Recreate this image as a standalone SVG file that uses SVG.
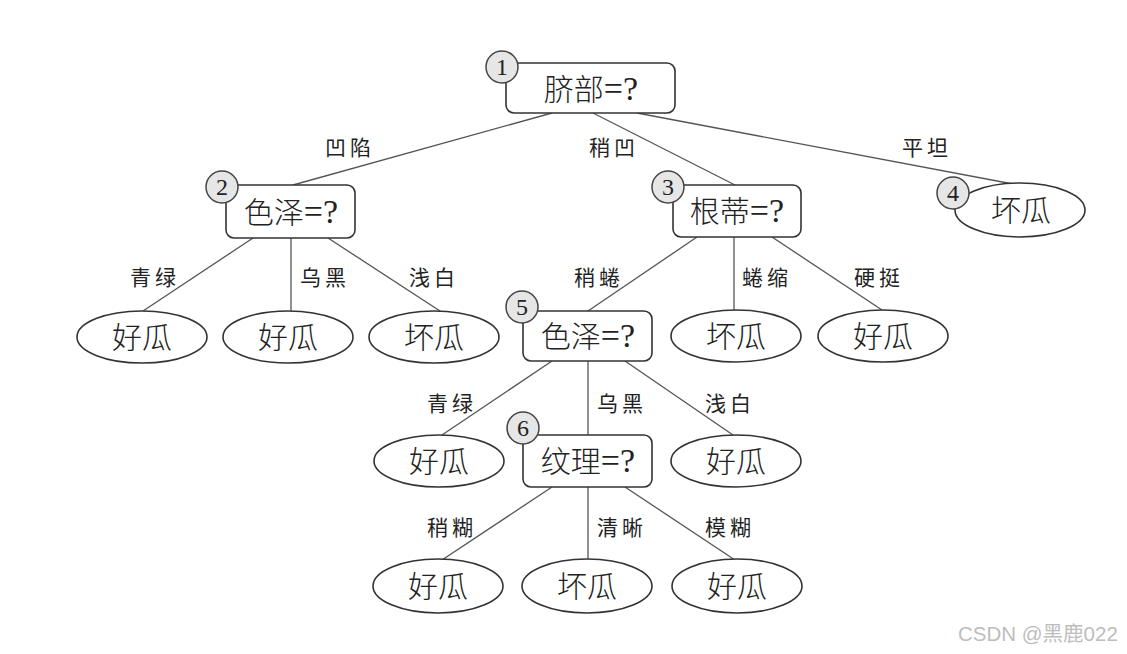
<svg xmlns="http://www.w3.org/2000/svg" width="1127" height="654" viewBox="0 0 1127 654">
<style>
.box{fill:#fff;stroke:#333;stroke-width:1.6}
.leaf{fill:#fff;stroke:#333;stroke-width:1.6}
.num{fill:#e6e6e6;stroke:#444;stroke-width:1.5}
.edge{stroke:#555;stroke-width:1.3;fill:none}
.nt{font-family:"Liberation Serif","Noto Sans CJK SC",serif;font-size:30px;fill:#222;text-anchor:middle;font-weight:300}
.lt{font-family:"Noto Sans CJK SC",sans-serif;font-size:30px;fill:#222;text-anchor:middle;font-weight:300}
.nn{font-family:"Liberation Serif",serif;font-size:24px;fill:#222;text-anchor:middle}
.el{font-family:"Noto Sans CJK SC",sans-serif;font-size:21px;fill:#222;text-anchor:middle;letter-spacing:4px}
.wm{font-family:"Liberation Sans","Noto Sans CJK SC",sans-serif;font-size:20.5px;fill:#bdbdbd}
</style>
<rect width="1127" height="654" fill="#fff"/>
<g id="connectors">
<line class="edge" x1="552" y1="113" x2="293" y2="185"/>
<line class="edge" x1="593" y1="113" x2="735" y2="185"/>
<line class="edge" x1="637" y1="113" x2="1013" y2="184"/>
<line class="edge" x1="253" y1="238" x2="143" y2="311"/>
<line class="edge" x1="291" y1="238" x2="291" y2="311"/>
<line class="edge" x1="328" y1="238" x2="440" y2="311"/>
<line class="edge" x1="697" y1="237" x2="588" y2="311"/>
<line class="edge" x1="734" y1="237" x2="734" y2="310"/>
<line class="edge" x1="772" y1="237" x2="882" y2="310"/>
<line class="edge" x1="552" y1="361" x2="442" y2="435"/>
<line class="edge" x1="588" y1="361" x2="588" y2="435"/>
<line class="edge" x1="625" y1="361" x2="733" y2="435"/>
<line class="edge" x1="552" y1="487" x2="442" y2="560"/>
<line class="edge" x1="588" y1="487" x2="588" y2="560"/>
<line class="edge" x1="625" y1="487" x2="735" y2="560"/>
<text class="el" x="350" y="155">凹陷</text>
<text class="el" x="614" y="155">稍凹</text>
<text class="el" x="927" y="155">平坦</text>
<text class="el" x="155" y="285">青绿</text>
<text class="el" x="325" y="285">乌黑</text>
<text class="el" x="434" y="285">浅白</text>
<text class="el" x="599" y="285">稍蜷</text>
<text class="el" x="767" y="285">蜷缩</text>
<text class="el" x="879" y="285">硬挺</text>
<text class="el" x="452" y="411">青绿</text>
<text class="el" x="622" y="411">乌黑</text>
<text class="el" x="730" y="411">浅白</text>
<text class="el" x="452" y="535">稍糊</text>
<text class="el" x="622" y="535">清晰</text>
<text class="el" x="730" y="535">模糊</text>
</g>
<g id="n1">
<rect class="box" x="506" y="63" width="169" height="50" rx="8"/>
<circle class="num" cx="502" cy="67" r="16"/>
<text class="nn" x="502" y="75">1</text>
<text class="nt" x="591" y="100">脐部<tspan font-size="34">=?</tspan></text>
</g>
<g id="n2">
<rect class="box" x="226" y="185" width="129" height="53" rx="8"/>
<circle class="num" cx="222" cy="187" r="16"/>
<text class="nn" x="222" y="195">2</text>
<text class="nt" x="291" y="223">色泽<tspan font-size="34">=?</tspan></text>
</g>
<g id="n3">
<rect class="box" x="673" y="185" width="128" height="52" rx="8"/>
<circle class="num" cx="668" cy="187" r="16"/>
<text class="nn" x="668" y="195">3</text>
<text class="nt" x="737" y="222">根蒂<tspan font-size="34">=?</tspan></text>
</g>
<g id="n4">
<ellipse class="leaf" cx="1020" cy="210" rx="65" ry="27"/>
<circle class="num" cx="953" cy="193" r="16"/>
<text class="nn" x="953" y="201">4</text>
<text class="lt" x="1021" y="221">坏瓜</text>
</g>
<g id="n5">
<rect class="box" x="523" y="311" width="129" height="50" rx="8"/>
<circle class="num" cx="522" cy="307" r="16"/>
<text class="nn" x="522" y="315">5</text>
<text class="nt" x="588" y="347">色泽<tspan font-size="34">=?</tspan></text>
</g>
<g id="n6">
<rect class="box" x="523" y="435" width="129" height="52" rx="8"/>
<circle class="num" cx="523" cy="428" r="16"/>
<text class="nn" x="523" y="436">6</text>
<text class="nt" x="588" y="472">纹理<tspan font-size="34">=?</tspan></text>
</g>
<g id="l1"><ellipse class="leaf" cx="142" cy="337" rx="65" ry="26"/><text class="lt" x="142" y="348">好瓜</text></g>
<g id="l2"><ellipse class="leaf" cx="288" cy="337" rx="65" ry="26"/><text class="lt" x="288" y="348">好瓜</text></g>
<g id="l3"><ellipse class="leaf" cx="434" cy="337" rx="65" ry="26"/><text class="lt" x="434" y="348">坏瓜</text></g>
<g id="l4"><ellipse class="leaf" cx="736" cy="336" rx="65" ry="26"/><text class="lt" x="736" y="347">坏瓜</text></g>
<g id="l5"><ellipse class="leaf" cx="883" cy="336" rx="65" ry="26"/><text class="lt" x="883" y="347">好瓜</text></g>
<g id="l6"><ellipse class="leaf" cx="439" cy="461" rx="65" ry="26"/><text class="lt" x="439" y="472">好瓜</text></g>
<g id="l7"><ellipse class="leaf" cx="736" cy="461" rx="65" ry="26"/><text class="lt" x="736" y="472">好瓜</text></g>
<g id="l8"><ellipse class="leaf" cx="438" cy="586" rx="65" ry="27"/><text class="lt" x="438" y="597">好瓜</text></g>
<g id="l9"><ellipse class="leaf" cx="587" cy="586" rx="65" ry="27"/><text class="lt" x="587" y="597">坏瓜</text></g>
<g id="l10"><ellipse class="leaf" cx="737" cy="586" rx="65" ry="27"/><text class="lt" x="737" y="597">好瓜</text></g>
<text class="wm" x="958" y="641">CSDN @黑鹿022</text>
</svg>
